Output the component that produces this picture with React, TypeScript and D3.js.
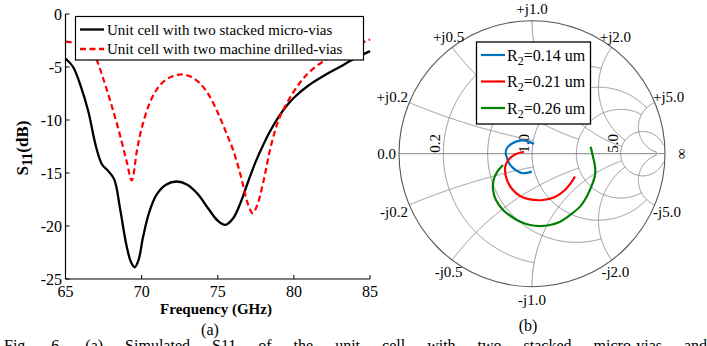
import React, { useEffect, useRef } from "react";
import * as d3 from "d3";

// (a) S11 vs frequency
const freqStacked = [65, 65.5, 66, 66.5, 67, 67.4, 67.8, 68.2, 68.6, 69, 69.3, 69.55, 69.8, 70.1, 70.5, 71, 71.6, 72.3, 73, 73.7, 74.4, 75, 75.5, 76, 76.5, 77, 77.5, 78, 78.5, 79, 79.5, 80, 81, 82, 83, 84, 85];
const s11Stacked = [-4.2, -5.0, -6.8, -9.2, -12.5, -14.2, -14.8, -15.6, -18.5, -21.8, -23.4, -23.9, -23.2, -21.0, -18.7, -17.0, -16.1, -15.8, -16.1, -17.0, -18.4, -19.5, -19.9, -19.3, -17.8, -15.8, -13.9, -12.3, -10.9, -9.7, -8.7, -7.9, -6.7, -5.8, -5.0, -4.2, -3.5];
const freqDrilled = [65, 65.5, 66, 66.5, 67, 67.5, 68, 68.5, 69, 69.35, 69.7, 70, 70.5, 71, 71.5, 72, 72.6, 73.2, 73.8, 74.4, 75, 75.5, 76, 76.5, 77, 77.3, 77.6, 78, 78.5, 79, 79.5, 80, 80.5, 81, 82, 83, 84, 85];
const s11Drilled = [-2.6, -2.7, -2.8, -3.2, -4.2, -6.2, -8.5, -11.0, -13.8, -15.7, -12.8, -10.8, -8.5, -7.1, -6.3, -5.9, -5.7, -5.9, -6.5, -7.6, -9.3, -11.0, -12.8, -15.2, -18.0, -18.8, -18.0, -15.8, -12.4, -10.0, -8.5, -7.3, -6.3, -5.5, -4.4, -3.7, -3.0, -2.4];
const xTicks = [65, 70, 75, 80, 85];
const yTicks = [0, -5, -10, -15, -20, -25];
const legendA = ["Unit cell with two stacked micro-vias", "Unit cell with two machine drilled-vias"];

// (b) Smith chart
const gridValues = [0.2, 0.5, 1.0, 2.0, 5.0];
const gridEnds = [1.0, 2.0, 5.0, 5.0, 30];
const resistanceLabels = [0.2, 1.0, 5.0];
const r2Values = ["0.14", "0.21", "0.26"];
const r2Colors = ["#0072BD", "#FF0000", "#008000"];
const gammaR014: [number, number][] = [
  [0.015, 0.073], [-0.038, 0.095], [-0.09, 0.098], [-0.15, 0.077], [-0.188, 0.043], [-0.198, 0.005],
  [-0.19, -0.025], [-0.173, -0.07], [-0.143, -0.107], [-0.105, -0.133], [-0.068, -0.147], [-0.002, -0.135],
];
const gammaR021: [number, number][] = [
  [-0.06, 0.015], [-0.12, -0.002], [-0.165, -0.032], [-0.195, -0.077], [-0.203, -0.123], [-0.188, -0.198],
  [-0.15, -0.265], [-0.09, -0.318], [-0.015, -0.344], [0.083, -0.348], [0.173, -0.325], [0.248, -0.273],
  [0.293, -0.22], [0.323, -0.171],
];
const gammaR026: [number, number][] = [
  [-0.218, -0.085], [-0.263, -0.138], [-0.289, -0.198], [-0.293, -0.273], [-0.271, -0.348], [-0.218, -0.423],
  [-0.15, -0.476], [-0.083, -0.514], [-0.015, -0.536], [0.06, -0.544], [0.135, -0.536], [0.211, -0.511],
  [0.286, -0.461], [0.361, -0.398], [0.414, -0.318], [0.451, -0.235], [0.474, -0.16], [0.474, -0.098],
  [0.459, -0.025], [0.441, 0.053],
];

const FONT = "'Liberation Serif', 'Times New Roman', serif";
const FS = 15;

const gamma = (r: number, x: number): [number, number] => {
  const den = (r + 1) * (r + 1) + x * x;
  return [(r * r + x * x - 1) / den, (2 * x) / den];
};

const App: React.FC = () => {
  const svgRef = useRef<SVGSVGElement | null>(null);

  useEffect(() => {
    if (!svgRef.current) return;
    const svg = d3.select(svgRef.current);
    svg.selectAll("*").remove();

    // ---------- (a) ----------
    const x = d3.scaleLinear().domain([65, 85]).range([65.5, 370]);
    const y = d3.scaleLinear().domain([-25, 0]).range([279, 14]);
    const ga = svg.append("g").attr("font-family", FONT);

    const line = d3
      .line<[number, number]>()
      .x((d) => x(d[0]))
      .y((d) => y(d[1]))
      .curve(d3.curveCatmullRom.alpha(0.5));

    ga.append("path")
      .attr("d", line(freqStacked.map((f, i) => [f, s11Stacked[i]]))!)
      .attr("fill", "none")
      .attr("stroke", "#000")
      .attr("stroke-width", 2.3);
    ga.append("path")
      .attr("d", line(freqDrilled.map((f, i) => [f, s11Drilled[i]]))!)
      .attr("fill", "none")
      .attr("stroke", "#FF0000")
      .attr("stroke-width", 2.2)
      .attr("stroke-dasharray", "6,3.5");

    // axes
    ga.append("line").attr("x1", x(65)).attr("x2", x(65)).attr("y1", y(0)).attr("y2", y(-25)).attr("stroke", "#000").attr("stroke-width", 1.2);
    ga.append("line").attr("x1", x(65)).attr("x2", x(85)).attr("y1", y(-25)).attr("y2", y(-25)).attr("stroke", "#000").attr("stroke-width", 1.2);
    yTicks.forEach((t) => {
      ga.append("line").attr("x1", x(65)).attr("x2", x(65) + 4).attr("y1", y(t)).attr("y2", y(t)).attr("stroke", "#000");
      ga.append("text").attr("x", 62).attr("y", y(t) + 5.5).attr("text-anchor", "end").attr("font-size", 16).text(t);
    });
    xTicks.forEach((t) => {
      ga.append("line").attr("x1", x(t)).attr("x2", x(t)).attr("y1", y(-25)).attr("y2", y(-25) - 4).attr("stroke", "#000");
      ga.append("text").attr("x", x(t)).attr("y", 297).attr("text-anchor", "middle").attr("font-size", 16).text(t);
    });
    ga.append("text").attr("x", 216).attr("y", 314).attr("text-anchor", "middle").attr("font-size", FS).attr("font-weight", "bold").text("Frequency (GHz)");
    const yl = ga.append("text")
      .attr("transform", "translate(28,148) rotate(-90)")
      .attr("text-anchor", "middle")
      .attr("font-size", 17)
      .attr("font-weight", "bold");
    yl.append("tspan").text("S");
    yl.append("tspan").attr("font-size", 14).attr("dy", 4).text("11");
    yl.append("tspan").attr("dy", -4).text("(dB)");
    ga.append("text").attr("x", 210).attr("y", 334.5).attr("text-anchor", "middle").attr("font-size", 16).text("(a)");

    // legend (a)
    const la = ga.append("g");
    la.append("rect").attr("x", 75.5).attr("y", 16.5).attr("width", 288).attr("height", 43.5).attr("fill", "#fff").attr("stroke", "#000").attr("stroke-width", 1.2);
    legendA.forEach((label, i) => {
      const ly = 29.5 + i * 19.5;
      la.append("line").attr("x1", 80).attr("x2", 104).attr("y1", ly).attr("y2", ly)
        .attr("stroke", i === 0 ? "#000" : "#FF0000").attr("stroke-width", 2.3)
        .attr("stroke-dasharray", i === 0 ? null : "6,3.5");
      la.append("text").attr("x", 107).attr("y", ly + 5).attr("font-size", FS).text(label);
    });

    // ---------- (b) ----------
    const cx = 532, cy = 153.7, R = 133;
    const sx = d3.scaleLinear().domain([-1, 1]).range([cx - R, cx + R]);
    const sy = d3.scaleLinear().domain([-1, 1]).range([cy + R, cy - R]);
    const gb = svg.append("g").attr("font-family", FONT);
    const gline = d3.line<[number, number]>().x((d) => sx(d[0])).y((d) => sy(d[1]));
    const N = 800;

    gridValues.forEach((v, i) => {
      const end = gridEnds[i];
      // resistance circle
      const rc = d3.range(N + 1).map((k) => gamma(v, -end + (2 * end * k) / N));
      gb.append("path").attr("d", gline(rc)!).attr("fill", "none").attr("stroke", "#777").attr("stroke-width", 0.8);
      // reactance arcs
      [1, -1].forEach((s) => {
        const xc = d3.range(N + 1).map((k) => gamma((end * k) / N, s * v));
        gb.append("path").attr("d", gline(xc)!).attr("fill", "none").attr("stroke", "#777").attr("stroke-width", 0.8);
      });
    });
    gb.append("line").attr("x1", sx(-1)).attr("x2", sx(1)).attr("y1", sy(0)).attr("y2", sy(0)).attr("stroke", "#777").attr("stroke-width", 0.9);
    gb.append("circle").attr("cx", sx(0)).attr("cy", sy(0)).attr("r", sx(1) - sx(0)).attr("fill", "none").attr("stroke", "#555").attr("stroke-width", 1.1);

    // reactance labels
    gridValues.forEach((v) => {
      [1, -1].forEach((s) => {
        const g = gamma(0, s * v);
        const side = v < 0.3 || v > 3;
        const rad = side ? 1.01 : 1.045;
        const px = sx(g[0] * rad), py = sy(g[1] * rad);
        const anchor = side ? (g[0] < 0 ? "end" : "start") : "middle";
        let dy = 0;
        if (side) dy = s > 0 ? 0 : 12;
        else dy = s > 0 ? -1 : 12;
        gb.append("text").attr("x", px + (side ? (g[0] < 0 ? 0 : -3) : 0)).attr("y", py + dy)
          .attr("text-anchor", anchor).attr("font-size", FS)
          .text(`${s > 0 ? "+" : "-"}j${v.toFixed(1)}`);
      });
    });
    gb.append("text").attr("x", sx(-1) - 3).attr("y", sy(0) + 5).attr("text-anchor", "end").attr("font-size", FS).text("0.0");
    gb.append("text").attr("transform", `translate(${sx(1) + 21},${sy(0)}) rotate(-90)`).attr("text-anchor", "middle").attr("font-size", FS).text("∞");
    resistanceLabels.forEach((v) => {
      const g = gamma(v, 0);
      gb.append("text").attr("transform", `translate(${sx(g[0]) - 3},${sy(0) - 1}) rotate(-90)`).attr("font-size", FS).text(v.toFixed(1));
    });

    // curves
    const cline = d3.line<[number, number]>().x((d) => sx(d[0])).y((d) => sy(d[1])).curve(d3.curveCatmullRom.alpha(0.5));
    [gammaR014, gammaR021, gammaR026].forEach((pts, i) => {
      gb.append("path").attr("d", cline(pts)!).attr("fill", "none").attr("stroke", r2Colors[i]).attr("stroke-width", 2.2);
    });

    // legend (b)
    const lb = gb.append("g");
    lb.append("rect").attr("x", 476.5).attr("y", 42).attr("width", 114).attr("height", 82).attr("fill", "#fff").attr("stroke", "#000").attr("stroke-width", 1.3);
    r2Values.forEach((val, i) => {
      const ly = 55 + i * 26.5;
      lb.append("line").attr("x1", 481).attr("x2", 505).attr("y1", ly).attr("y2", ly).attr("stroke", r2Colors[i]).attr("stroke-width", 2.2);
      const t = lb.append("text").attr("x", 507).attr("y", ly + 5.5).attr("font-size", 16);
      t.append("tspan").text("R");
      t.append("tspan").attr("font-size", 12).attr("dy", 4).text("2");
      t.append("tspan").attr("dy", -4).text(`=${val} um`);
    });
    gb.append("text").attr("x", 528).attr("y", 331).attr("text-anchor", "middle").attr("font-size", 16).text("(b)");

    // caption (cut off at the bottom)
    svg.append("text").attr("x", 4).attr("y", 350.5).attr("font-family", FONT).attr("font-size", 16)
      .attr("word-spacing", 18)
      .text("Fig. 6.  (a) Simulated S11 of the unit cell with two stacked micro-vias and");
  }, []);

  return (
    <svg ref={svgRef} width={707} height={346}
      style={{ position: "absolute", left: 0, top: 0, background: "#fff", display: "block" }} />
  );
};

export default App;
